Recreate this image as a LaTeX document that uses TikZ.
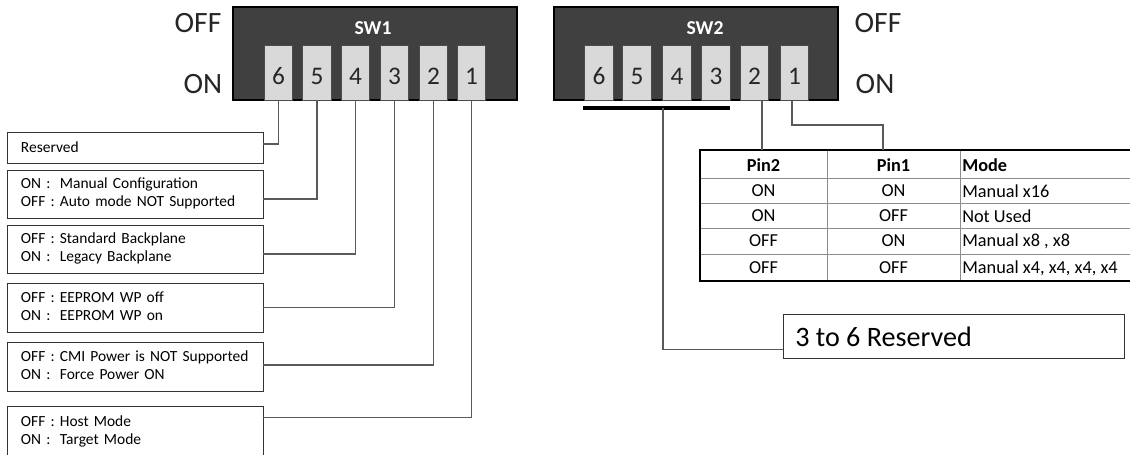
\documentclass[tikz,border=0pt]{standalone}
\usepackage{fontspec}
\setmainfont{Carlito}
\usepackage{xcolor}
\usetikzlibrary{positioning,calc}

\definecolor{swbody}{HTML}{404040}
\definecolor{swkey}{HTML}{D9D9D9}
\definecolor{wire}{HTML}{5A5A5A}
\definecolor{grid}{HTML}{8C8C8C}

\begin{document}
\begin{tikzpicture}[
    x=0.25mm, y=-0.25mm,
    switch/.style = {rectangle, draw=black, fill=swbody, line width=0.8pt, minimum width=71mm, minimum height=23.25mm, inner sep=0pt},
    swkey/.style = {rectangle, draw=black!70, fill=swkey, line width=0.6pt, minimum width=7.2mm, minimum height=13.75mm, inner sep=0pt},
    keynum/.style = {font=\fontsize{18}{20}\selectfont, text=black!85},
    sw_title/.style = {font=\bfseries\fontsize{14}{16}\selectfont, text=white},
    state/.style = {font=\fontsize{21}{24}\selectfont, text=black!85},
    info_box/.style = {rectangle, draw=black!80, line width=0.7pt, minimum width=64mm, text width=57mm, align=left, inner xsep=3.5mm, font=\fontsize{11}{13}\selectfont},
    cell/.style = {font=\fontsize{13}{15}\selectfont, inner sep=0pt},
    head/.style = {cell, font=\bfseries\fontsize{13}{15}\selectfont},
    wire/.style = {draw=wire, line width=1pt}
]
\useasboundingbox (0,0) rectangle (1130,454);
\clip (0,0) rectangle (1130,454);

% SW1
\node [switch] (sw1) at (375,53.5) {};
\node [sw_title] (sw1t) at (373,28) {SW1};
\foreach \n/\x in {6/278.5,5/317,4/355.5,3/394.5,2/433.5,1/471.5} {
  \node [swkey] (a\n) at (\x,72.5) {};
  \node [keynum] at (\x,76) {\n};
}
\node [state] (off1) at (198,23) {OFF};
\node [state] (on1) at (203,84) {ON};

% SW2
\node [switch] (sw2) at (696,53.5) {};
\node [sw_title] (sw2t) at (705,28) {SW2};
\foreach \n/\x in {6/599,5/637,4/677,3/716,2/754.5,1/794.5} {
  \node [swkey] (b\n) at (\x,72.5) {};
  \node [keynum] at (\x,76) {\n};
}
\node [state] (off2) at (878,23) {OFF};
\node [state] (on2) at (875,84) {ON};

% SW1 descriptions
\node [info_box, minimum height=7.75mm] (d6) at (135,147.5) {Reserved};
\node [info_box, minimum height=12mm] (d5) at (135,194) {\begin{tabular}{@{}l@{ }l@{}}ON :&Manual Configuration\\OFF :&Auto mode NOT Supported\end{tabular}};
\node [info_box, minimum height=12mm] (d4) at (135,249) {\begin{tabular}{@{}l@{ }l@{}}OFF :&Standard Backplane\\ON :&Legacy Backplane\end{tabular}};
\node [info_box, minimum height=12.25mm] (d3) at (135,307.5) {\begin{tabular}{@{}l@{ }l@{}}OFF :&EEPROM WP off\\ON :&EEPROM WP on\end{tabular}};
\node [info_box, minimum height=12.25mm] (d2) at (135,366.5) {\begin{tabular}{@{}l@{ }l@{}}OFF :&CMI Power is NOT Supported\\ON :&Force Power ON\end{tabular}};
\node [info_box, minimum height=13mm] (d1) at (135,432) {\begin{tabular}{@{}l@{ }l@{}}OFF :&Host Mode\\ON :&Target Mode\end{tabular}};

\draw [wire] (a6.south) |- ([yshift=0.9mm]d6.east);
\draw [wire] (a5.south) |- ([yshift=-1.25mm]d5.east);
\draw [wire] (a4.south) |- ([yshift=-1.25mm]d4.east);
\draw [wire] (a3.south) |- (d3.east);
\draw [wire] (a2.south) |- ([yshift=0.4mm]d2.east);
\draw [wire] (a1.south) |- ([yshift=-3mm]d1.north east);

% SW2 mode table
\coordinate (tl) at (700,150);
\coordinate (tr) at (1131,150);
\coordinate (bl) at (700,281);
\coordinate (br) at (1131,281);
\foreach \y in {178,203,228,254} \draw [grid, line width=0.6pt] (700,\y) -- (1131,\y);
\foreach \x in {827,960} \draw [grid, line width=0.6pt] (\x,150) -- (\x,281);
\draw [black, line width=1.3pt] (tr) -- (tl) -- (bl) -- (br);
\node [head] (h1) at (763.5,165) {Pin2};
\node [head] (h2) at (893.5,165) {Pin1};
\node [head, anchor=west] (h3) at (962,165) {Mode};
\foreach \i/\p/\q/\m/\y in {1/ON/ON/Manual x16/191,2/ON/OFF/Not Used/216,3/OFF/ON/{Manual x8 , x8}/241,4/OFF/OFF/{Manual x4, x4, x4, x4}/268} {
  \node [cell] (p\i) at (763.5,\y) {\p};
  \node [cell] (q\i) at (893.5,\y) {\q};
  \node [cell, anchor=west] (m\i) at (962,\y) {\m};
}

% SW2 wiring
\node [rectangle, draw=black!80, line width=0.7pt, minimum width=85.25mm, minimum height=11mm, anchor=north west, inner sep=0pt] (rsv) at (783,314) {};
\node [font=\fontsize{20}{24}\selectfont, anchor=west, inner sep=0pt] (rsvt) at (795,337) {3 to 6 Reserved};
\coordinate (bar6) at (583,108);
\coordinate (bar3) at (730,108);
\coordinate (barm) at (663,108);
\draw [black, line width=2.2pt] (bar6) -- (bar3);
\draw [wire] (barm) |- ([yshift=-3.25mm]rsv.west);
\draw [wire] ([xshift=1.9mm]b2.south) -- ++(0,50);
\draw [wire] ([xshift=-0.6mm]b1.south) |- (883,125) -- (883,150);

\end{tikzpicture}
\end{document}
